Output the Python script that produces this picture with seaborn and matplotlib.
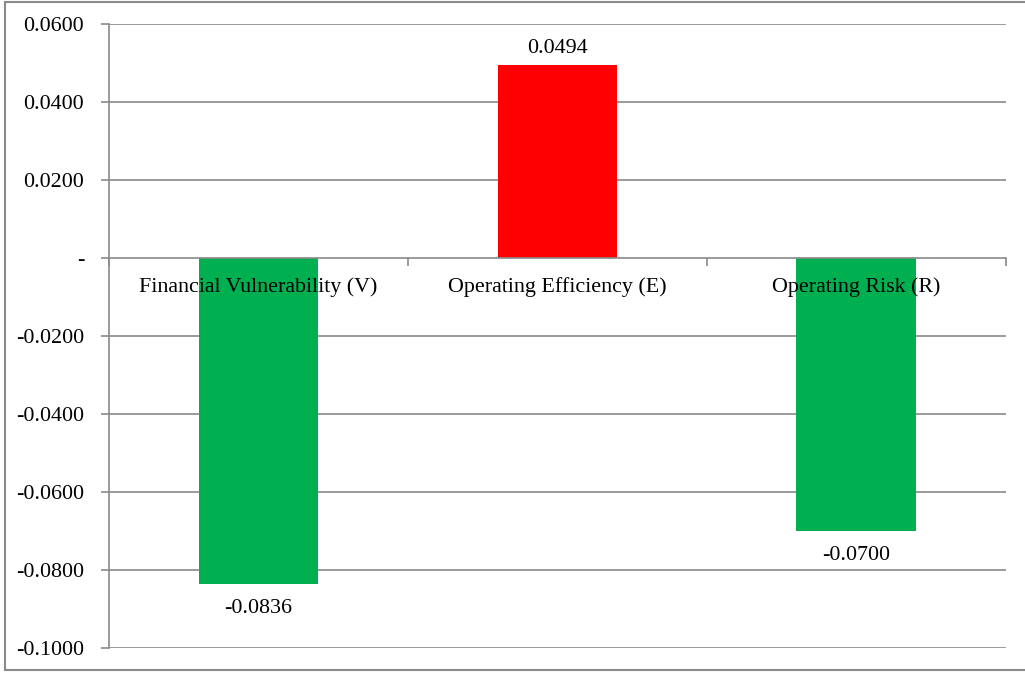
import matplotlib
matplotlib.use("Agg")
import matplotlib.pyplot as plt
import seaborn as sns
import pandas as pd
from matplotlib.lines import Line2D

categories = ["Financial Vulnerability (V)", "Operating Efficiency (E)", "Operating Risk (R)"]
values = [-0.0836, 0.0494, -0.0700]
bar_colors = ["#00B050", "#FF0000", "#00B050"]
y_ticks = [0.06, 0.04, 0.02, 0.0, -0.02, -0.04, -0.06, -0.08, -0.10]
y_tick_labels = ["0.0600", "0.0400", "0.0200", "-", "-0.0200", "-0.0400", "-0.0600", "-0.0800", "-0.1000"]

sns.set_theme(style="white")
plt.rcParams["font.family"] = ["Liberation Serif", "DejaVu Serif"]
plt.rcParams["text.color"] = "black"

W, H = 1025, 673
FS = 15.8
fig = plt.figure(figsize=(W / 100, H / 100), dpi=100)
ax = fig.add_axes([109 / W, 1 - 647.7 / H, (1005.7 - 109) / W, (647.7 - 24) / H])

df = pd.DataFrame({"cat": categories, "val": values})
sns.barplot(data=df, x="cat", y="val", hue="cat", palette=bar_colors, order=categories,
            hue_order=categories, width=0.4, saturation=1, legend=False, ax=ax, edgecolor="none")

gray = "#8a8a8a"
ax.set_ylim(-0.1, 0.06)
ax.set_xlim(-0.5, len(categories) - 0.5)
ax.set_yticks(y_ticks)
ax.set_yticklabels(y_tick_labels)
for y in y_ticks:
    if y != 0:
        ax.axhline(y, color=gray, lw=1.2, zorder=0)

for s in ["top", "right"]:
    ax.spines[s].set_visible(False)
ax.spines["left"].set_color(gray)
ax.spines["left"].set_linewidth(1.2)
ax.spines["bottom"].set_position(("data", 0))
ax.spines["bottom"].set_color(gray)
ax.spines["bottom"].set_linewidth(1.2)
ax.spines["bottom"].set_zorder(3)

ax.tick_params(axis="y", which="major", length=6, width=1.2, color=gray, direction="out",
               pad=12, labelsize=FS, labelcolor="black", left=True)
ax.set_xticks([i - 0.5 for i in range(len(categories) + 1)])
ax.set_xticklabels([])
ax.tick_params(axis="x", which="major", length=6, width=1.2, color=gray, direction="out", bottom=True)
ax.set_xlabel("")
ax.set_ylabel("")

# category labels drawn above the bars (Excel style)
for i, c in enumerate(categories):
    ax.annotate(c, (i, 0), xytext=(0, -29), textcoords="offset pixels",
                ha="center", va="center", fontsize=FS, color="black", zorder=10)

for i, v in enumerate(values):
    off = 17 if v >= 0 else -25
    ax.annotate(f"{v:.4f}", (i, v), xytext=(0, off), textcoords="offset pixels",
                ha="center", va="center", fontsize=FS, color="black")

# outer chart border
bc = "#8a8a8a"
fig.add_artist(Line2D([5 / W, 5 / W], [1 - 1.5 / H, 1 - 670 / H], color=bc, lw=1.5, transform=fig.transFigure))
fig.add_artist(Line2D([5 / W, 1.0], [1 - 1.5 / H, 1 - 1.5 / H], color=bc, lw=1.5, transform=fig.transFigure))
fig.add_artist(Line2D([5 / W, 1.0], [1 - 670 / H, 1 - 670 / H], color=bc, lw=1.5, transform=fig.transFigure))

fig.savefig("out.png", dpi=100)
